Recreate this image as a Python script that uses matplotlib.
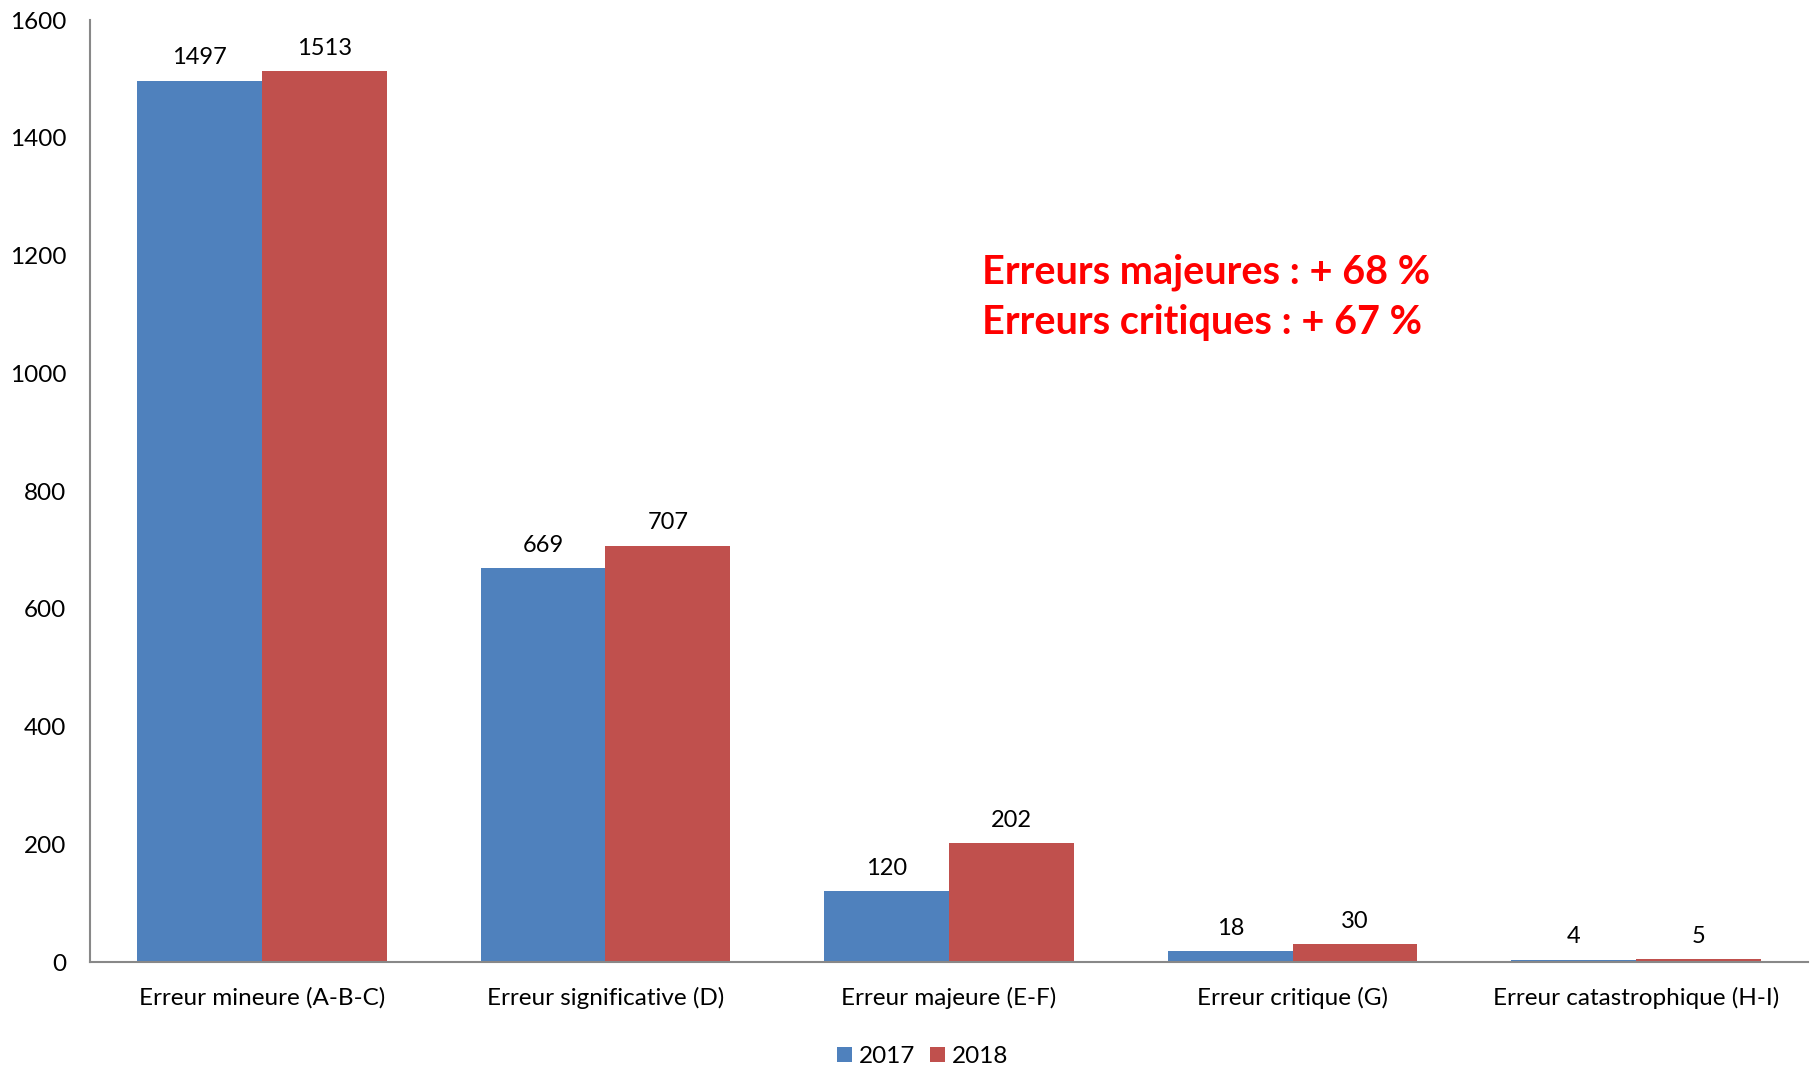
import matplotlib.pyplot as plt
import numpy as np

plt.rcParams['font.family'] = ['Lato', 'DejaVu Sans']

categories = ['Erreur mineure (A-B-C)', 'Erreur significative (D)', 'Erreur majeure (E-F)',
              'Erreur critique (G)', 'Erreur catastrophique (H-I)']
years = ['2017', '2018']
values_2017 = [1497, 669, 120, 18, 4]
values_2018 = [1513, 707, 202, 30, 5]
yticks = [0, 200, 400, 600, 800, 1000, 1200, 1400, 1600]
note_lines = ['Erreurs majeures : + 68 %', 'Erreurs critiques : + 67 %']

blue = '#4F81BD'
red = '#C0504D'

fig = plt.figure(figsize=(18.2, 10.65), dpi=100)
ax = fig.add_axes([0.0495, 0.0967, 0.9439, 0.8843])

x = np.arange(len(categories))
w = 0.363
b1 = ax.bar(x - w / 2, values_2017, w, color=blue, label=years[0])
b2 = ax.bar(x + w / 2, values_2018, w, color=red, label=years[1])

for bars in (b1, b2):
    for rect in bars:
        h = rect.get_height()
        ax.annotate(f'{h:g}', (rect.get_x() + rect.get_width() / 2, h),
                    xytext=(0, 9), textcoords='offset points',
                    ha='center', va='bottom', fontsize=17)

ax.set_xlim(-0.5, len(categories) - 0.5)
ax.set_ylim(0, 1600)
ax.set_yticks(yticks)
ax.set_xticks(x)
ax.set_xticklabels(categories, fontsize=17.5)
ax.tick_params(axis='y', labelsize=17.5, length=0, pad=17)
ax.tick_params(axis='x', length=0, pad=18)

for side in ('top', 'right'):
    ax.spines[side].set_visible(False)
for side in ('left', 'bottom'):
    ax.spines[side].set_color('#888888')
    ax.spines[side].set_linewidth(1.5)

ax.text(2.095, 1172, note_lines[0], color='#FF0000', fontsize=28.5, fontweight='bold',
        ha='left', va='center')
ax.text(2.095, 1087, note_lines[1], color='#FF0000', fontsize=28.5, fontweight='bold',
        ha='left', va='center')

fig.legend(handles=[b1, b2], loc='center', bbox_to_anchor=(0.507, 0.008), ncol=2,
           frameon=False, fontsize=17.5, handlelength=0.6, handleheight=0.6,
           handletextpad=0.3, columnspacing=0.6)

fig.savefig('out.png', dpi=100)
